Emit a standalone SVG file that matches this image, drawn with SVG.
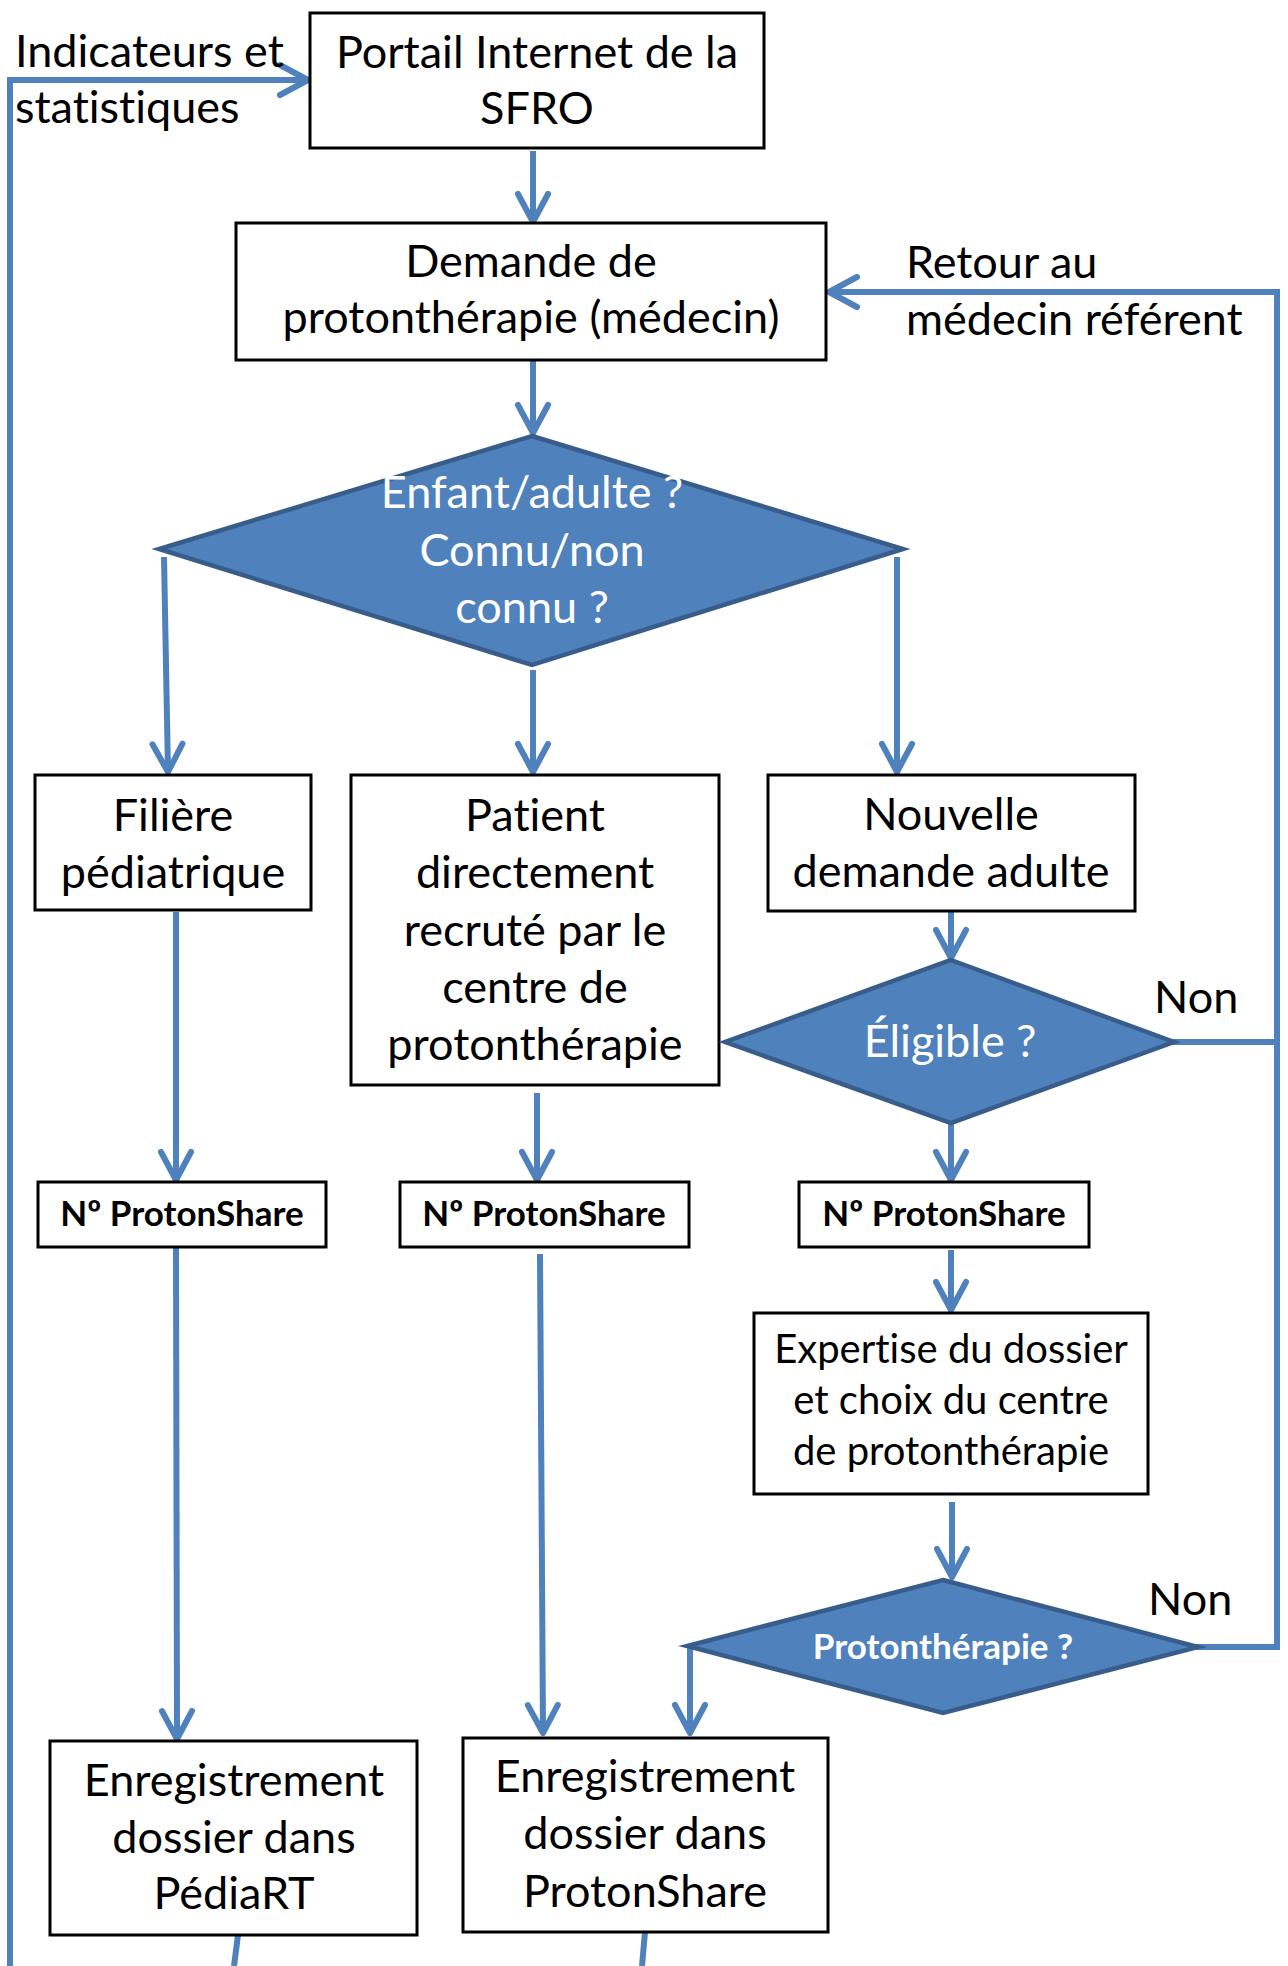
<svg xmlns="http://www.w3.org/2000/svg" width="1288" height="1966" viewBox="0 0 1288 1966">
<style>
  .box { fill: #ffffff; stroke: #000000; stroke-width: 3; }
  .dia { fill: #4F81BD; stroke: #385D8A; stroke-width: 4.5; stroke-linejoin: miter; }
  .t { font-family: Lato, "Liberation Sans", sans-serif; font-size: 45px; fill: #000000; font-variant-ligatures: none; font-feature-settings: "liga" 0, "clig" 0; }
  .c { text-anchor: middle; }
  .w { fill: #ffffff; }
  .s { font-size: 40px; }
  .b { font-weight: bold; font-size: 35px; }
  .ln { fill: none; stroke: #4F81BD; stroke-width: 6; stroke-linejoin: miter; }
  .ar { marker-end: url(#ah); }
</style>
<defs>
  <marker id="ah" markerUnits="userSpaceOnUse" markerWidth="40" markerHeight="40" viewBox="0 0 40 40" refX="32" refY="20" orient="auto" overflow="visible">
    <path d="M 4 5 L 32 20 L 4 35" fill="none" stroke="#4F81BD" stroke-width="6" stroke-linecap="round" stroke-linejoin="round"/>
  </marker>
</defs>
<rect width="1288" height="1966" fill="#ffffff"/>

<g id="connectors">
  <path class="ln ar" d="M 10 1966 L 10 80 L 308 80"/>
  <path class="ln ar" d="M 533 151 L 533 222"/>
  <path class="ln ar" d="M 533 360 L 533 433"/>
  <path class="ln ar" d="M 164 557 L 168 772"/>
  <path class="ln ar" d="M 533 670 L 533 772"/>
  <path class="ln ar" d="M 897 557 L 897 772"/>
  <path class="ln ar" d="M 951 912 L 951 958"/>
  <path class="ln ar" d="M 951 1123 L 951 1180"/>
  <path class="ln ar" d="M 176 912 L 176 1180"/>
  <path class="ln ar" d="M 537 1093 L 537 1180"/>
  <path class="ln ar" d="M 176 1247 L 177 1739"/>
  <path class="ln ar" d="M 540 1254 L 543 1733"/>
  <path class="ln ar" d="M 951 1250 L 951 1310"/>
  <path class="ln ar" d="M 952 1502 L 952 1577"/>
  <path class="ln ar" d="M 690 1645 L 690 1733"/>
  <path class="ln" d="M 1172 1042 L 1277 1042"/>
  <path class="ln ar" d="M 1190 1647 L 1277 1647 L 1277 292 L 829 292"/>
  <path class="ln" d="M 238 1935 L 234 1966"/>
  <path class="ln" d="M 645 1932 L 642 1966"/>
</g>

<g id="label-indicateurs">
  <text class="t" x="15" y="67">Indicateurs et</text>
  <text class="t" x="15" y="123">statistiques</text>
</g>
<g id="label-retour">
  <text class="t" x="906" y="278">Retour au</text>
  <text class="t" x="906" y="335">médecin référent</text>
</g>
<g id="label-non1">
  <text class="t" x="1154" y="1013">Non</text>
</g>
<g id="label-non2">
  <text class="t" x="1148" y="1615">Non</text>
</g>

<g id="portail">
  <rect class="box" x="310" y="13" width="454" height="135"/>
  <text class="t c" x="537" y="68">Portail Internet de la</text>
  <text class="t c" x="537" y="124">SFRO</text>
</g>
<g id="demande">
  <rect class="box" x="236" y="223" width="590" height="137"/>
  <text class="t c" x="531" y="277">Demande de</text>
  <text class="t c" x="531" y="333">protonthérapie (médecin)</text>
</g>
<g id="enfant-adulte">
  <polygon class="dia" points="532,436 903,549 532,665 159,549"/>
  <text class="t c w" x="532" y="508">Enfant/adulte ?</text>
  <text class="t c w" x="532" y="566">Connu/non</text>
  <text class="t c w" x="532" y="623">connu ?</text>
</g>
<g id="filiere">
  <rect class="box" x="35" y="775" width="276" height="135"/>
  <text class="t c" x="173" y="831">Filière</text>
  <text class="t c" x="173" y="888">pédiatrique</text>
</g>
<g id="patient">
  <rect class="box" x="351" y="775" width="368" height="310"/>
  <text class="t c" x="535" y="831">Patient</text>
  <text class="t c" x="535" y="888">directement</text>
  <text class="t c" x="535" y="946">recruté par le</text>
  <text class="t c" x="535" y="1003">centre de</text>
  <text class="t c" x="535" y="1060">protonthérapie</text>
</g>
<g id="nouvelle">
  <rect class="box" x="768" y="775" width="367" height="136"/>
  <text class="t c" x="951" y="830">Nouvelle</text>
  <text class="t c" x="951" y="887">demande adulte</text>
</g>
<g id="eligible">
  <polygon class="dia" points="951,960 1174,1042 951,1123 725,1042"/>
  <text class="t c w" x="950" y="1057">Éligible ?</text>
</g>
<g id="ps1">
  <rect class="box" x="38" y="1182" width="288" height="65"/>
  <text class="t c b" x="182" y="1226">Nº ProtonShare</text>
</g>
<g id="ps2">
  <rect class="box" x="400" y="1182" width="289" height="65"/>
  <text class="t c b" x="544" y="1226">Nº ProtonShare</text>
</g>
<g id="ps3">
  <rect class="box" x="799" y="1182" width="290" height="65"/>
  <text class="t c b" x="944" y="1226">Nº ProtonShare</text>
</g>
<g id="expertise">
  <rect class="box" x="754" y="1313" width="394" height="181"/>
  <text class="t c s" x="951" y="1363">Expertise du dossier</text>
  <text class="t c s" x="951" y="1414">et choix du centre</text>
  <text class="t c s" x="951" y="1465">de protonthérapie</text>
</g>
<g id="protontherapie">
  <polygon class="dia" points="943,1580 1198,1647 943,1713 687,1646"/>
  <text class="t c w b" x="943" y="1659" style="font-size:35px">Protonthérapie ?</text>
</g>
<g id="pediart">
  <rect class="box" x="50" y="1741" width="367" height="194"/>
  <text class="t c" x="234" y="1796">Enregistrement</text>
  <text class="t c" x="234" y="1853">dossier dans</text>
  <text class="t c" x="234" y="1909">PédiaRT</text>
</g>
<g id="protonshare">
  <rect class="box" x="463" y="1738" width="365" height="194"/>
  <text class="t c" x="645" y="1792">Enregistrement</text>
  <text class="t c" x="645" y="1849">dossier dans</text>
  <text class="t c" x="645" y="1907">ProtonShare</text>
</g>
</svg>
